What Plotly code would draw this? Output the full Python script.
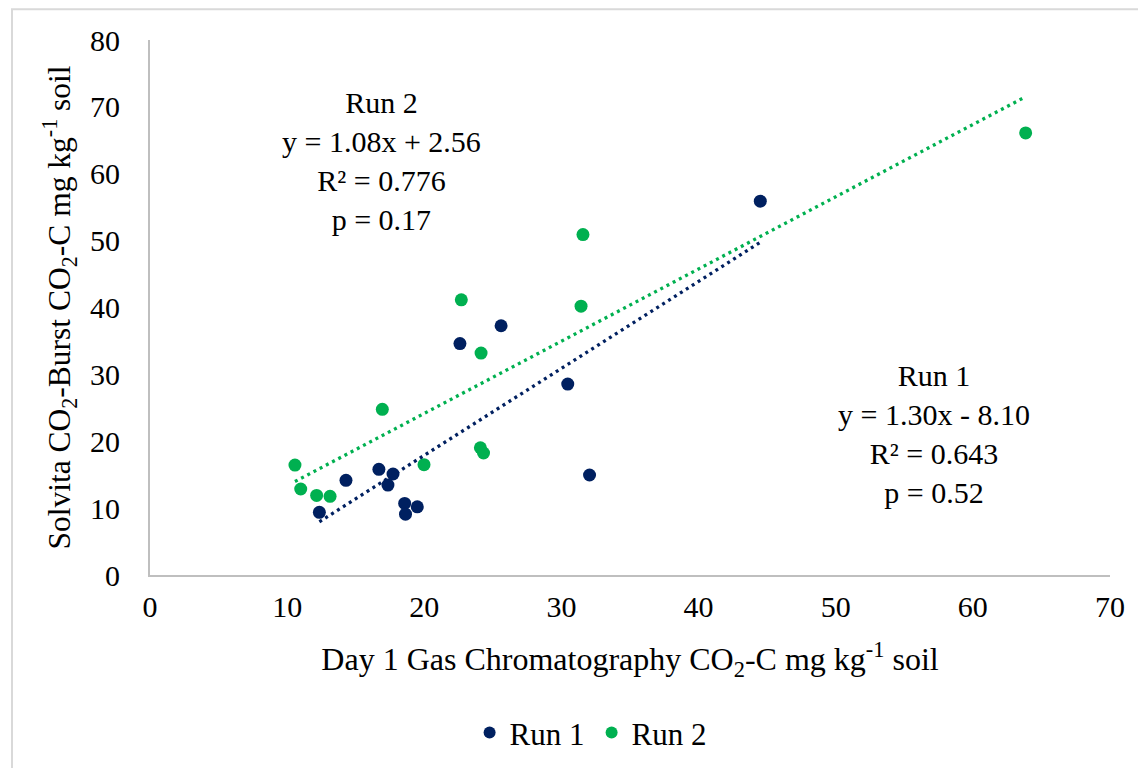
import plotly.graph_objects as go

# ---- data ----
run1_x = [12.35, 14.29, 16.69, 17.72, 17.35, 18.57, 19.49, 18.63, 22.6, 25.6, 30.46, 32.05, 44.5]
run1_y = [9.37, 14.15, 15.8, 15.1, 13.45, 10.7, 10.2, 9.1, 34.6, 37.27, 28.55, 14.95, 55.9]
run2_x = [10.57, 10.99, 12.15, 13.13, 16.94, 19.98, 22.7, 24.14, 24.09, 24.32, 31.43, 31.57, 63.85]
run2_y = [16.44, 12.86, 11.9, 11.76, 24.77, 16.5, 41.15, 33.18, 19.03, 18.24, 40.2, 50.9, 66.1]

# trendline coefficients (slope, intercept) as printed on the chart
run1_fit = [1.30, -8.10]
run2_fit = [1.08, 2.56]

x_ticks = [0, 10, 20, 30, 40, 50, 60, 70]
y_ticks = [0, 10, 20, 30, 40, 50, 60, 70, 80]

NAVY = "#002060"
GREEN = "#00B050"
FONT = "Liberation Serif, Times New Roman, serif"

fig = go.Figure()

fig.add_trace(go.Scatter(x=run1_x, y=run1_y, mode="markers", name="Run 1",
                         marker=dict(color=NAVY, size=13)))
fig.add_trace(go.Scatter(x=run2_x, y=run2_y, mode="markers", name="Run 2",
                         marker=dict(color=GREEN, size=13)))


def trend(xs, fit):
    x0, x1 = min(xs), max(xs)
    return [x0, x1], [fit[0] * x0 + fit[1], fit[0] * x1 + fit[1]]


tx, ty = trend(run1_x, run1_fit)
fig.add_trace(go.Scatter(x=tx, y=ty, mode="lines", showlegend=False,
                         line=dict(color=NAVY, width=3.3, dash="3px,4px")))
tx, ty = trend(run2_x, run2_fit)
fig.add_trace(go.Scatter(x=tx, y=ty, mode="lines", showlegend=False,
                         line=dict(color=GREEN, width=3.3, dash="3px,4px")))

fig.add_annotation(x=16.9, y=61.9, xref="x", yref="y", showarrow=False,
                   text="Run 2<br>y = 1.08x + 2.56<br>R² = 0.776<br>p = 0.17",
                   align="center", font=dict(size=30, family=FONT, color="black"))
fig.add_annotation(x=57.2, y=21.1, xref="x", yref="y", showarrow=False,
                   text="Run 1<br>y = 1.30x - 8.10<br>R² = 0.643<br>p = 0.52",
                   align="center", font=dict(size=30, family=FONT, color="black"))

# outer chart border
fig.add_shape(type="rect", xref="paper", yref="paper",
              x0=-0.14375, x1=1.06, y0=-0.42, y1=1.0575,
              line=dict(color="#D9D9D9", width=2), fillcolor="rgba(0,0,0,0)", layer="below")

fig.update_layout(
    width=1146, height=768,
    margin=dict(l=142, r=44, t=32, b=201),
    paper_bgcolor="white", plot_bgcolor="white",
    font=dict(family=FONT, size=30, color="black"),
    showlegend=True,
    legend=dict(orientation="h", x=0.46, xanchor="center", y=-0.295, yanchor="middle",
                font=dict(size=31, family=FONT), itemsizing="constant", itemwidth=30,
                entrywidth=77),
    xaxis=dict(range=[0, 70], tickvals=x_ticks, showgrid=False, zeroline=False,
               showline=True, linecolor="#BFBFBF", linewidth=2, ticks="",
               ticklabelstandoff=4,
               title=dict(text="Day 1 Gas Chromatography CO<sub>2</sub>-C mg kg<sup>-1</sup> soil",
                          font=dict(size=32, family=FONT), standoff=26)),
    yaxis=dict(range=[0, 80], tickvals=y_ticks, showgrid=False, zeroline=False,
               showline=True, linecolor="#BFBFBF", linewidth=2, ticks="",
               ticklabelstandoff=22,
               title=dict(text="Solvita CO<sub>2</sub>-Burst CO<sub>2</sub>-C mg kg<sup>-1</sup> soil",
                          font=dict(size=31.5, family=FONT), standoff=10)),
)

fig.write_html("out.html")
